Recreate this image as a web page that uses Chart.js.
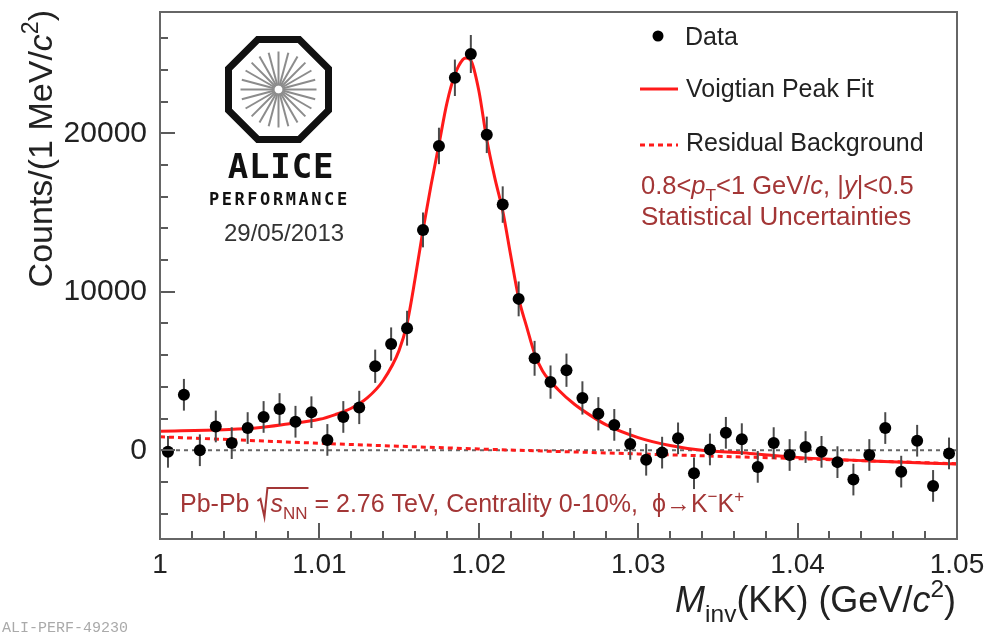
<!DOCTYPE html>
<html>
<head>
<meta charset="utf-8">
<script src="https://cdn.jsdelivr.net/npm/chart.js@4.4.0/dist/chart.umd.min.js"></script>
<style>
  html, body { margin: 0; padding: 0; background: #fff; }
  #wrap { width: 990px; height: 635px; position: relative; }
  #phiChart { filter: blur(0.6px); }
</style>
</head>
<body>
<div id="wrap"><canvas id="phiChart" width="990" height="635"></canvas></div>
<script>
// invariant mass bin centres, 1 MeV/c^2 bins (GeV/c^2)
const massBins = [
  1.0005, 1.0015, 1.0025, 1.0035, 1.0045, 1.0055, 1.0065, 1.0075, 1.0085, 1.0095,
  1.0105, 1.0115, 1.0125, 1.0135, 1.0145, 1.0155, 1.0165, 1.0175, 1.0185, 1.0195,
  1.0205, 1.0215, 1.0225, 1.0235, 1.0245, 1.0255, 1.0265, 1.0275, 1.0285, 1.0295,
  1.0305, 1.0315, 1.0325, 1.0335, 1.0345, 1.0355, 1.0365, 1.0375, 1.0385, 1.0395,
  1.0405, 1.0415, 1.0425, 1.0435, 1.0445, 1.0455, 1.0465, 1.0475, 1.0485, 1.0495
];
// background-subtracted counts per bin
const counts = [
  -100, 3500, 0, 1500, 450, 1400, 2100, 2600, 1800, 2400,
  650, 2100, 2700, 5300, 6700, 7700, 13900, 19200, 23500, 25000,
  19900, 15500, 9550, 5800, 4300, 5050, 3300, 2300, 1600, 400,
  -600, -150, 750, -1450, 50, 1100, 700, -1050, 450, -300,
  200, -100, -750, -1850, -300, 1400, -1350, 600, -2250, -200
];
// statistical uncertainties
const countErrors = [
  1000, 1000, 1000, 1000, 1000, 1000, 1000, 1000, 1000, 1000,
  1000, 1000, 1050, 1050, 1050, 1100, 1100, 1150, 1150, 1200,
  1150, 1150, 1100, 1100, 1050, 1050, 1050, 1050, 1000, 1000,
  1000, 1000, 1000, 1000, 1000, 1000, 1000, 1000, 1000, 1000,
  1000, 1000, 1000, 1000, 1000, 1000, 1000, 1000, 1000, 1000
];

// Voigtian peak fit (signal + residual background)
const fitMass = [
  1.000, 1.004, 1.006, 1.008, 1.010, 1.011, 1.012, 1.013, 1.014, 1.015,
  1.0155, 1.016, 1.0165, 1.017, 1.0175, 1.018, 1.0185, 1.019, 1.0192, 1.0195,
  1.020, 1.0205, 1.021, 1.0215, 1.022, 1.0225, 1.023, 1.0235, 1.024, 1.025,
  1.026, 1.027, 1.028, 1.030, 1.032, 1.034, 1.037, 1.040, 1.045, 1.050
];
const fitCounts = [
  1200, 1300, 1400, 1650, 1950, 2250, 2650, 3300, 4400, 6300,
  8000, 10800, 13900, 16700, 19300, 21900, 23700, 24650, 24750, 24600,
  22700, 19600, 17200, 15100, 12300, 9600, 7800, 6100, 5000, 3800,
  2900, 2200, 1600, 800, 300, 0, -200, -450, -700, -870
];

// residual background
const bgMass = [1.000, 1.010, 1.020, 1.030, 1.040, 1.050];
const bgCounts = [850, 440, 80, -230, -530, -850];

// zero reference line
const zeroMass = [1.000, 1.050];
const zeroCounts = [0, 0];

// axes
const xMajorTicks = [1.00, 1.01, 1.02, 1.03, 1.04, 1.05];
const xTickLabels = ['1', '1.01', '1.02', '1.03', '1.04', '1.05'];
const xMinorStep = 0.002;
const yMajorTicks = [0, 10000, 20000];
const yTickLabels = ['0', '10000', '20000'];
const yMinorStep = 2000;
const xRange = [1.0, 1.05];
const yRange = [-5600, 27650];

const FONT = "'Liberation Sans', Arial, sans-serif";
const ANNOT = '#a33636';
const INK = '#222';

const pts = (xs, ys) => xs.map((x, i) => ({ x: x, y: ys[i] }));

// text with italic / sub / superscript pieces, returns the drawn spans
function richText(ctx, x, y, parts, size, color, align) {
  const fontOf = p => (p.it ? 'italic ' : '') + ((p.sub || p.sup) ? size * 0.68 : size) + 'px ' + FONT;
  let total = 0;
  parts.forEach(p => { ctx.font = fontOf(p); total += p.gap !== undefined ? p.gap : ctx.measureText(p.t).width; });
  let cx = align === 'right' ? x - total : x;
  ctx.fillStyle = color;
  ctx.textAlign = 'left';
  ctx.textBaseline = 'alphabetic';
  const spans = [];
  parts.forEach(p => {
    ctx.font = fontOf(p);
    const w = p.gap !== undefined ? p.gap : ctx.measureText(p.t).width;
    if (p.t) {
      const dy = p.sub ? size * 0.28 : (p.sup ? -size * 0.42 : 0);
      ctx.fillText(p.t, cx, y + dy);
    }
    spans.push({ x: cx, w: w, p: p });
    cx += w;
  });
  return spans;
}

function drawLogo(ctx) {
  const cx = 278.5, cy = 89.5;
  ctx.save();
  // spokes
  ctx.strokeStyle = '#8c8c8c';
  ctx.lineWidth = 2;
  for (let k = 0; k < 24; k++) {
    const a = k * Math.PI / 12;
    ctx.beginPath();
    ctx.moveTo(cx + 4 * Math.cos(a), cy + 4 * Math.sin(a));
    ctx.lineTo(cx + 38 * Math.cos(a), cy + 38 * Math.sin(a));
    ctx.stroke();
  }
  // octagon ring
  const r = 50 / Math.cos(Math.PI / 8);
  ctx.strokeStyle = '#111';
  ctx.lineWidth = 7;
  ctx.lineJoin = 'miter';
  ctx.beginPath();
  for (let k = 0; k < 8; k++) {
    const a = Math.PI / 8 + k * Math.PI / 4;
    const px = cx + r * Math.cos(a), py = cy + r * Math.sin(a);
    if (k === 0) ctx.moveTo(px, py); else ctx.lineTo(px, py);
  }
  ctx.closePath();
  ctx.stroke();

  ctx.fillStyle = '#111';
  ctx.textAlign = 'center';
  ctx.textBaseline = 'alphabetic';
  ctx.font = "bold 34px 'DejaVu Sans Mono', monospace";
  'ALICE'.split('').forEach((c, i) => ctx.fillText(c, 238 + i * 21.3, 178));
  ctx.font = "bold 17px 'DejaVu Sans Mono', monospace";
  'PERFORMANCE'.split('').forEach((c, i) => ctx.fillText(c, 214 + i * 12.8, 205));
  ctx.fillStyle = '#333';
  ctx.textAlign = 'left';
  ctx.font = '24px ' + FONT;
  ctx.fillText('29/05/2013', 224, 241);
  ctx.restore();
}

const decorations = {
  id: 'decorations',
  beforeDatasetDraw(chart, args) {
    if (args.index !== 0) return;
    // vertical error bars under the data markers
    const ctx = chart.ctx, xs = chart.scales.x, ys = chart.scales.y, a = chart.chartArea;
    ctx.save();
    ctx.beginPath();
    ctx.rect(a.left, a.top, a.right - a.left, a.bottom - a.top);
    ctx.clip();
    ctx.strokeStyle = '#4a4a4a';
    ctx.lineWidth = 2;
    massBins.forEach((m, i) => {
      const px = xs.getPixelForValue(m);
      ctx.beginPath();
      ctx.moveTo(px, ys.getPixelForValue(counts[i] - countErrors[i]));
      ctx.lineTo(px, ys.getPixelForValue(counts[i] + countErrors[i]));
      ctx.stroke();
    });
    ctx.restore();
  },
  afterDatasetsDraw(chart) {
    const ctx = chart.ctx, xs = chart.scales.x, ys = chart.scales.y, a = chart.chartArea;
    ctx.save();
    ctx.strokeStyle = '#5a5a5a';
    ctx.lineWidth = 2;
    // ticks point into the frame
    for (let v = xRange[0]; v <= xRange[1] + 1e-9; v += xMinorStep) {
      const major = xMajorTicks.some(t => Math.abs(t - v) < 1e-6);
      const px = Math.round(xs.getPixelForValue(v));
      ctx.beginPath();
      ctx.moveTo(px, a.bottom);
      ctx.lineTo(px, a.bottom - (major ? 16 : 8));
      ctx.stroke();
    }
    for (let v = -4000; v <= yRange[1]; v += yMinorStep) {
      const major = yMajorTicks.includes(v);
      const py = Math.round(ys.getPixelForValue(v));
      ctx.beginPath();
      ctx.moveTo(a.left, py);
      ctx.lineTo(a.left + (major ? 15 : 8), py);
      ctx.stroke();
    }
    ctx.strokeStyle = '#666';
    ctx.strokeRect(a.left, a.top, a.right - a.left, a.bottom - a.top);
    ctx.restore();
  },
  afterDraw(chart) {
    const ctx = chart.ctx;
    ctx.save();

    // axis titles
    richText(ctx, 956, 612, [
      { t: 'M', it: true }, { t: 'inv', sub: true }, { t: '(KK) (GeV/' },
      { t: 'c', it: true }, { t: '2', sup: true }, { t: ')' }
    ], 36, INK, 'right');

    ctx.save();
    ctx.translate(52, 10);
    ctx.rotate(-Math.PI / 2);
    richText(ctx, 0, 0, [
      { t: 'Counts/(1 MeV/' }, { t: 'c', it: true }, { t: '2', sup: true }, { t: ')' }
    ], 34, INK, 'right');
    ctx.restore();

    // legend
    ctx.fillStyle = '#000';
    ctx.beginPath();
    ctx.arc(658, 36, 5.5, 0, Math.PI * 2);
    ctx.fill();
    ctx.strokeStyle = '#ff1a1a';
    ctx.lineWidth = 3;
    ctx.beginPath(); ctx.moveTo(640, 89); ctx.lineTo(678, 89); ctx.stroke();
    ctx.setLineDash([5, 4]);
    ctx.beginPath(); ctx.moveTo(640, 145); ctx.lineTo(678, 145); ctx.stroke();
    ctx.setLineDash([]);
    ctx.fillStyle = INK;
    ctx.font = '25px ' + FONT;
    ctx.textAlign = 'left';
    ctx.textBaseline = 'alphabetic';
    ctx.fillText('Data', 685, 45);
    ctx.fillText('Voigtian Peak Fit', 686, 97);
    ctx.fillText('Residual Background', 686, 151);

    // kinematic selection
    richText(ctx, 641, 194, [
      { t: '0.8<' }, { t: 'p', it: true }, { t: 'T', sub: true },
      { t: '<1 GeV/' }, { t: 'c', it: true }, { t: ', |' }, { t: 'y', it: true }, { t: '|<0.5' }
    ], 25.5, ANNOT, 'left');
    richText(ctx, 641, 225, [{ t: 'Statistical Uncertainties' }], 26, ANNOT, 'left');

    // collision system
    const spans = richText(ctx, 180, 512, [
      { t: 'Pb-Pb ' }, { gap: 14 }, { t: 's', it: true }, { t: 'NN', sub: true },
      { t: ' = 2.76 TeV, Centrality 0-10%,  ' }, { t: 'ϕ' }, { t: '→' },
      { t: 'K' }, { t: '−', sup: true }, { t: 'K' }, { t: '+', sup: true }
    ], 25, ANNOT, 'left');
    const rad = spans[1], sEnd = spans[3].x + spans[3].w;
    ctx.strokeStyle = ANNOT;
    ctx.lineWidth = 2;
    ctx.beginPath();
    ctx.moveTo(rad.x + 1, 501);
    ctx.lineTo(rad.x + 4, 499);
    ctx.lineTo(rad.x + 8, 517);
    ctx.lineTo(rad.x + 11, 488);
    ctx.lineTo(sEnd + 1, 488);
    ctx.stroke();

    // run tag
    ctx.fillStyle = '#aaa';
    ctx.font = "15px 'Liberation Mono', monospace";
    ctx.fillText('ALI-PERF-49230', 2, 632);

    drawLogo(ctx);
    ctx.restore();
  }
};

new Chart(document.getElementById('phiChart'), {
  type: 'scatter',
  data: {
    datasets: [
      {
        label: 'Data',
        data: pts(massBins, counts),
        backgroundColor: '#000',
        borderColor: '#000',
        pointRadius: 6,
        pointHoverRadius: 6,
        borderWidth: 0
      },
      {
        label: 'Voigtian Peak Fit',
        data: pts(fitMass, fitCounts),
        showLine: true,
        borderColor: '#ff1a1a',
        borderWidth: 3,
        pointRadius: 0,
        cubicInterpolationMode: 'monotone'
      },
      {
        label: 'Residual Background',
        data: pts(bgMass, bgCounts),
        showLine: true,
        borderColor: '#ff1a1a',
        borderWidth: 3,
        borderDash: [5, 4],
        pointRadius: 0,
        cubicInterpolationMode: 'monotone'
      },
      {
        label: 'zero',
        data: pts(zeroMass, zeroCounts),
        showLine: true,
        borderColor: '#666',
        borderWidth: 2,
        borderDash: [4, 4],
        pointRadius: 0
      }
    ]
  },
  options: {
    responsive: false,
    animation: false,
    devicePixelRatio: 1,
    layout: { padding: { top: 12, right: 33, left: 0, bottom: 0 } },
    plugins: { legend: { display: false }, tooltip: { enabled: false } },
    scales: {
      x: {
        type: 'linear',
        min: xRange[0],
        max: xRange[1],
        grid: { display: false, drawTicks: false },
        border: { display: false },
        afterBuildTicks: s => { s.ticks = xMajorTicks.map(v => ({ value: v })); },
        afterFit: s => { s.height = 96; s.paddingLeft = 0; s.paddingRight = 0; },
        ticks: {
          autoSkip: false,
          maxRotation: 0,
          padding: 9,
          color: INK,
          font: { family: FONT, size: 28 },
          callback: (v, i) => xTickLabels[i]
        }
      },
      y: {
        type: 'linear',
        min: yRange[0],
        max: yRange[1],
        grid: { display: false, drawTicks: false },
        border: { display: false },
        afterBuildTicks: s => { s.ticks = yMajorTicks.map(v => ({ value: v })); },
        afterFit: s => { s.width = 160; s.paddingTop = 0; s.paddingBottom = 0; },
        ticks: {
          autoSkip: false,
          padding: 13,
          color: INK,
          font: { family: FONT, size: 30 },
          callback: (v, i) => yTickLabels[i]
        }
      }
    }
  },
  plugins: [decorations]
});
</script>
</body>
</html>
